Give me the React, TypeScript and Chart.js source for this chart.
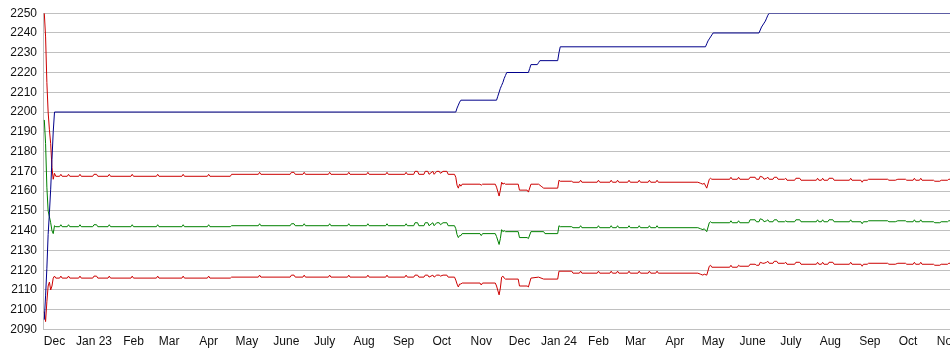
import React, { useEffect, useRef } from "react";
import { Chart, registerables } from "chart.js";
Chart.register(...registerables);

// x = days since 1 Dec 2022
const TICK_DAYS = [0, 31, 62, 90, 121, 151, 182, 212, 243, 274, 304, 335, 365, 396, 427, 456, 487, 517, 548, 578, 609, 640, 670, 701];
const TICK_LABELS = ["Dec", "Jan 23", "Feb", "Mar", "Apr", "May", "June", "July", "Aug", "Sep", "Oct", "Nov", "Dec", "Jan 24", "Feb", "Mar", "Apr", "May", "June", "July", "Aug", "Sep", "Oct", "Nov"];
const Y_MIN = 2090;
const Y_MAX = 2250;
const Y_STEP = 10;

const BLUE_LINE: [number, number][] = [
  [-8, 2095], [-7, 2107], [-6, 2121], [-5, 2138], [-4, 2149], [-3, 2161], [-2, 2176], [-1, 2190], [0, 2200],
  [315, 2200], [316, 2202], [317, 2203.5], [318, 2205], [319, 2206], [347, 2206], [348, 2208], [349, 2210],
  [350, 2212], [351, 2213.5], [352, 2215], [353, 2217], [354, 2218.5], [355, 2220], [372, 2220], [373, 2222],
  [374, 2224], [379, 2224], [380, 2225], [381, 2226], [395, 2226], [396, 2230], [397, 2233], [511, 2233],
  [512, 2234.5], [513, 2236], [514, 2237], [515, 2238], [516, 2239], [517, 2240], [553, 2240], [554, 2241.5],
  [555, 2243], [556, 2244], [557, 2245], [558, 2246], [559, 2247.5], [560, 2249], [561, 2250], [720, 2250],
];

const RED_HIGH: [number, number][] = [
  [-8, 2250], [-7, 2238], [-6, 2215], [-5, 2200], [-4, 2191], [-3, 2184], [-2, 2172], [-1, 2166], [0, 2169], [1, 2167.5],
  [4, 2167.5], [5, 2168.5], [6, 2167.5], [10, 2167.5], [11, 2168.5], [12, 2167.5], [19, 2167.5], [20, 2168.5], [21, 2167.5],
  [30, 2167.5], [31, 2168.5], [33, 2168.5], [34, 2167.5], [42, 2167.5], [43, 2168.5], [44, 2167.5], [60, 2167.5], [61, 2168.5],
  [62, 2167.5], [80, 2167.5], [81, 2168.5], [82, 2167.5], [100, 2167.5], [101, 2168.5], [102, 2167.5], [120, 2167.5],
  [121, 2168.5], [122, 2167.5], [138, 2167.5], [139, 2168.5], [160, 2168.5], [161, 2169.5], [162, 2168.5], [185, 2168.5],
  [186, 2169.5], [188, 2169.5], [189, 2168.5], [195, 2168.5], [196, 2169.5], [197, 2168.5], [215, 2168.5], [216, 2169.5],
  [217, 2168.5], [230, 2168.5], [231, 2169.5], [232, 2168.5], [245, 2168.5], [246, 2169.5], [247, 2168.5], [260, 2168.5],
  [261, 2169.5], [262, 2168.5], [275, 2168.5], [276, 2169.5], [277, 2168.5], [282, 2168.5], [283, 2170], [285, 2170],
  [286, 2168.5], [290, 2168.5], [291, 2170], [293, 2170], [294, 2168.5], [297, 2170], [298, 2168.5], [300, 2170],
  [302, 2170], [303, 2169], [305, 2170], [308, 2170], [309, 2168.5], [314, 2168.5], [315, 2167], [316, 2163],
  [317, 2161.5], [318, 2163.5], [319, 2162.5], [320, 2163.5], [334, 2163.5], [335, 2163], [336, 2163.5], [346, 2163.5],
  [347, 2162], [349, 2157.5], [350, 2160.5], [351, 2164.5], [352, 2163.5], [353, 2164], [354, 2163.5], [364, 2163.5],
  [365, 2160.5], [371, 2160.5], [372, 2159.5], [374, 2163.5], [380, 2163.5], [382, 2162.5], [384, 2161.5], [395, 2161.5],
  [396, 2165.5], [397, 2165], [406, 2165], [407, 2164.5], [412, 2164.5], [413, 2165.5], [414, 2164.5], [426, 2164.5],
  [427, 2165.5], [428, 2164.5], [436, 2164.5], [437, 2165.5], [438, 2164.5], [441, 2164.5], [442, 2165.5], [443, 2164.5],
  [450, 2164.5], [451, 2165.5], [452, 2164.5], [458, 2164.5], [459, 2165.5], [460, 2164.5], [466, 2164.5], [467, 2165.5],
  [468, 2164.5], [472, 2164.5], [473, 2165.5], [474, 2164.5], [505, 2164.5], [507, 2164], [509, 2163.5], [510, 2164],
  [512, 2161.5], [514, 2166], [515, 2166.5], [516, 2166], [530, 2166], [531, 2167], [532, 2166], [536, 2166], [537, 2167],
  [538, 2166], [545, 2166], [546, 2167], [550, 2167], [551, 2166], [553, 2166], [554, 2167.5], [556, 2167], [557, 2166],
  [559, 2166.5], [560, 2167], [561, 2166], [564, 2166], [565, 2167], [567, 2167], [568, 2166], [573, 2166], [574, 2166.5],
  [575, 2165.5], [581, 2165.5], [582, 2166.5], [585, 2166.5], [586, 2165.5], [598, 2165.5], [599, 2166.5], [600, 2165.5],
  [602, 2165.5], [603, 2166.5], [604, 2165.5], [607, 2165.5], [608, 2166.5], [611, 2166.5], [612, 2165.5], [624, 2165.5],
  [625, 2166.5], [626, 2165.5], [633, 2165.5], [634, 2164.5], [635, 2165.5], [638, 2165.5], [639, 2166], [654, 2166],
  [655, 2165.5], [660, 2165.5], [662, 2166], [668, 2166], [669, 2165.5], [674, 2165.5], [675, 2166.5], [676, 2165.5],
  [679, 2165.5], [680, 2166.5], [681, 2165.5], [690, 2165.5], [691, 2165], [695, 2165], [696, 2165.5], [701, 2165.5],
  [702, 2166], [720, 2166],
];

const GREEN_MID: [number, number][] = [
  [-8, 2196], [-7, 2184], [-6, 2162], [-5, 2150], [-4, 2147], [-3, 2144], [-2, 2140], [-1, 2138.5], [0, 2142.5], [1, 2142],
  [4, 2142], [5, 2143], [6, 2142], [10, 2142], [11, 2143], [12, 2142], [19, 2142], [20, 2143], [21, 2142], [30, 2142],
  [31, 2143], [33, 2143], [34, 2142], [42, 2142], [43, 2143], [44, 2142], [60, 2142], [61, 2143], [62, 2142], [80, 2142],
  [81, 2143], [82, 2142], [100, 2142], [101, 2143], [102, 2142], [120, 2142], [121, 2143], [122, 2142], [138, 2142],
  [139, 2142.5], [160, 2142.5], [161, 2143.5], [162, 2142.5], [185, 2142.5], [186, 2143.5], [188, 2143.5], [189, 2142.5],
  [195, 2142.5], [196, 2143.5], [197, 2142.5], [215, 2142.5], [216, 2143.5], [217, 2142.5], [230, 2142.5], [231, 2143.5],
  [232, 2142.5], [245, 2142.5], [246, 2143.5], [247, 2142.5], [260, 2142.5], [261, 2143.5], [262, 2142.5], [275, 2142.5],
  [276, 2143.5], [277, 2142.5], [282, 2142.5], [283, 2144], [285, 2144], [286, 2142.5], [290, 2142.5], [291, 2144],
  [293, 2144], [294, 2142.5], [297, 2144], [298, 2142.5], [300, 2144], [302, 2144], [303, 2143], [305, 2144], [308, 2144],
  [309, 2142.5], [314, 2142.5], [315, 2141], [316, 2138], [317, 2136.5], [318, 2137.5], [319, 2137.5], [320, 2138.5],
  [334, 2138.5], [335, 2137.5], [336, 2138.5], [346, 2138.5], [347, 2137], [349, 2133], [350, 2136], [351, 2140.5],
  [352, 2139.5], [353, 2140], [354, 2139.5], [364, 2139.5], [365, 2136.5], [371, 2136.5], [372, 2136], [374, 2139.5],
  [384, 2139.5], [385, 2138.5], [395, 2138.5], [396, 2142.5], [397, 2142], [406, 2142], [407, 2141.5], [412, 2141.5],
  [413, 2142.5], [414, 2141.5], [426, 2141.5], [427, 2142.5], [428, 2141.5], [436, 2141.5], [437, 2142.5], [438, 2141.5],
  [441, 2141.5], [442, 2142.5], [443, 2141.5], [450, 2141.5], [451, 2142.5], [452, 2141.5], [458, 2141.5], [459, 2142.5],
  [460, 2141.5], [466, 2141.5], [467, 2142.5], [468, 2141.5], [472, 2141.5], [473, 2142.5], [474, 2141.5], [505, 2141.5],
  [507, 2141], [509, 2140.5], [510, 2141], [512, 2139.5], [514, 2144], [515, 2144.5], [516, 2144], [530, 2144],
  [531, 2145], [532, 2144], [536, 2144], [537, 2145], [538, 2144], [545, 2144], [546, 2145.5], [550, 2145.5], [551, 2144.5],
  [553, 2144.5], [554, 2146], [556, 2145.5], [557, 2144.5], [559, 2145], [560, 2145.5], [561, 2144.5], [564, 2144.5],
  [565, 2145.5], [567, 2145.5], [568, 2144.5], [573, 2144.5], [574, 2145], [575, 2144.5], [581, 2144.5], [582, 2145.5],
  [585, 2145.5], [586, 2144.5], [598, 2144.5], [599, 2145.5], [600, 2144.5], [602, 2144.5], [603, 2145.5], [604, 2144.5],
  [607, 2144.5], [608, 2145.5], [611, 2145.5], [612, 2144.5], [624, 2144.5], [625, 2145.5], [626, 2144.5], [633, 2144.5],
  [634, 2143.5], [635, 2144.5], [638, 2144.5], [639, 2145], [654, 2145], [655, 2144.5], [660, 2144.5], [662, 2145],
  [668, 2145], [669, 2144.5], [674, 2144.5], [675, 2145.5], [676, 2144.5], [679, 2144.5], [680, 2145.5], [681, 2144.5],
  [690, 2144.5], [691, 2144], [695, 2144], [696, 2144.5], [701, 2144.5], [702, 2145], [720, 2145],
];

const RED_LOW: [number, number][] = [
  [-8, 2099], [-7, 2094], [-6, 2104], [-5, 2112], [-4, 2114], [-3, 2110], [-2, 2112], [-1, 2116], [0, 2117], [1, 2116],
  [4, 2116], [5, 2117], [6, 2116], [10, 2116], [11, 2117], [12, 2116], [19, 2116], [20, 2117], [21, 2116], [30, 2116],
  [31, 2117], [33, 2117], [34, 2116], [42, 2116], [43, 2117], [44, 2116], [60, 2116], [61, 2117], [62, 2116], [80, 2116],
  [81, 2117], [82, 2116], [100, 2116], [101, 2117], [102, 2116], [120, 2116], [121, 2117], [122, 2116], [138, 2116],
  [139, 2116.5], [160, 2116.5], [161, 2117.5], [162, 2116.5], [185, 2116.5], [186, 2117.5], [188, 2117.5], [189, 2116.5],
  [195, 2116.5], [196, 2117.5], [197, 2116.5], [215, 2116.5], [216, 2117.5], [217, 2116.5], [230, 2116.5], [231, 2117.5],
  [232, 2116.5], [245, 2116.5], [246, 2117.5], [247, 2116.5], [260, 2116.5], [261, 2117.5], [262, 2116.5], [275, 2116.5],
  [276, 2117.5], [277, 2116.5], [282, 2116.5], [283, 2117.5], [285, 2117.5], [286, 2116.5], [290, 2116.5], [291, 2117.5],
  [293, 2117.5], [294, 2116.5], [297, 2117.5], [298, 2116.5], [300, 2117.5], [302, 2117.5], [303, 2117], [305, 2117.5],
  [308, 2117.5], [309, 2116.5], [314, 2116.5], [315, 2115], [316, 2113], [317, 2111.5], [318, 2113], [319, 2113],
  [320, 2113.5], [334, 2113.5], [335, 2112.5], [336, 2113.5], [346, 2113.5], [347, 2112], [349, 2107.5], [350, 2111],
  [351, 2116.5], [352, 2117], [353, 2116], [354, 2115.5], [364, 2115.5], [365, 2112], [371, 2112], [372, 2111.5],
  [374, 2116], [380, 2116.5], [384, 2115.5], [395, 2115.5], [396, 2119.5], [406, 2119.5], [407, 2118.5], [412, 2118.5],
  [413, 2119.5], [414, 2118.5], [426, 2118.5], [427, 2119.5], [428, 2118.5], [436, 2118.5], [437, 2119.5], [438, 2118.5],
  [441, 2118.5], [442, 2119.5], [443, 2118.5], [450, 2118.5], [451, 2119.5], [452, 2118.5], [458, 2118.5], [459, 2119.5],
  [460, 2118.5], [466, 2118.5], [467, 2119.5], [468, 2118.5], [472, 2118.5], [473, 2119.5], [474, 2118.5], [505, 2118.5],
  [507, 2118], [509, 2117.5], [510, 2118], [512, 2117.5], [514, 2122], [515, 2122.5], [516, 2121.5], [530, 2121.5],
  [531, 2122.5], [532, 2121.5], [536, 2121.5], [537, 2122.5], [538, 2122], [545, 2122], [546, 2123], [550, 2123],
  [551, 2122.5], [553, 2122.5], [554, 2124], [556, 2123.5], [557, 2123.5], [559, 2124], [560, 2124.5], [561, 2123.5],
  [564, 2123.5], [565, 2124.5], [567, 2124.5], [568, 2123.5], [573, 2123.5], [574, 2124], [575, 2123], [581, 2123],
  [582, 2124], [585, 2124], [586, 2123], [598, 2123], [599, 2124], [600, 2123], [602, 2123], [603, 2124], [604, 2123],
  [607, 2123], [608, 2124], [611, 2124], [612, 2123], [624, 2123], [625, 2124], [626, 2123], [633, 2123], [634, 2122],
  [635, 2123], [638, 2123], [639, 2123.5], [654, 2123.5], [655, 2123], [660, 2123], [662, 2123.5], [668, 2123.5],
  [669, 2123], [674, 2123], [675, 2124], [676, 2123], [679, 2123], [680, 2124], [681, 2123], [690, 2123], [691, 2122.5],
  [695, 2122.5], [696, 2123], [701, 2123], [702, 2123.5], [720, 2123.5],
];

const X_MIN = -9.03;
const X_MAX = 742.2;

const toXY = (pts: [number, number][]) => pts.map(([x, y]) => ({ x, y }));

export default function App() {
  const ref = useRef<HTMLCanvasElement>(null);
  useEffect(() => {
    document.body.style.margin = "0";
    const canvas = ref.current;
    if (!canvas) return;
    const font = { family: "'Liberation Sans', Arial, sans-serif", size: 12 };
    const line = (data: [number, number][], color: string) => ({
      data: toXY(data),
      borderColor: color,
      backgroundColor: color,
      borderWidth: 1,
      pointRadius: 0,
      tension: 0,
      fill: false,
    });
    const chart = new Chart(canvas, {
      type: "line",
      data: {
        datasets: [
          line(BLUE_LINE, "#00008b"),
          line(RED_HIGH, "#cc0000"),
          line(GREEN_MID, "#008000"),
          line(RED_LOW, "#cc0000"),
        ],
      },
      options: {
        animation: false,
        responsive: false,
        maintainAspectRatio: false,
        events: [],
        plugins: { legend: { display: false }, tooltip: { enabled: false } },
        layout: { padding: { top: 9.5, left: 0, right: 0, bottom: 0 } },
        scales: {
          x: {
            type: "linear",
            min: X_MIN,
            max: X_MAX,
            afterBuildTicks: (s: any) => {
              s.ticks = TICK_DAYS.map((v) => ({ value: v }));
            },
            afterFit: (s: any) => {
              s.height = 25.5;
            },
            grid: { display: false, drawTicks: false },
            border: { display: false },
            ticks: {
              autoSkip: false,
              maxRotation: 0,
              minRotation: 0,
              padding: 5,
              color: "#111111",
              font,
              callback: (v: any) => TICK_LABELS[TICK_DAYS.indexOf(Number(v))] ?? "",
            },
          },
          y: {
            min: Y_MIN,
            max: Y_MAX,
            afterFit: (s: any) => {
              s.width = 43;
            },
            grid: { color: "#c0c0c0", lineWidth: 1, drawTicks: false },
            border: { display: true, color: "#c0c0c0" },
            ticks: {
              stepSize: Y_STEP,
              padding: 6,
              color: "#111111",
              font,
              callback: (v: any) => String(v),
            },
          },
        },
      },
    });
    return () => chart.destroy();
  }, []);
  return (
    <div style={{ position: "fixed", left: 0, top: 0, width: 950, height: 355, overflow: "hidden", background: "#ffffff" }}>
      <canvas ref={ref} width={1000} height={355} style={{ display: "block", width: 1000, height: 355 }} />
    </div>
  );
}
